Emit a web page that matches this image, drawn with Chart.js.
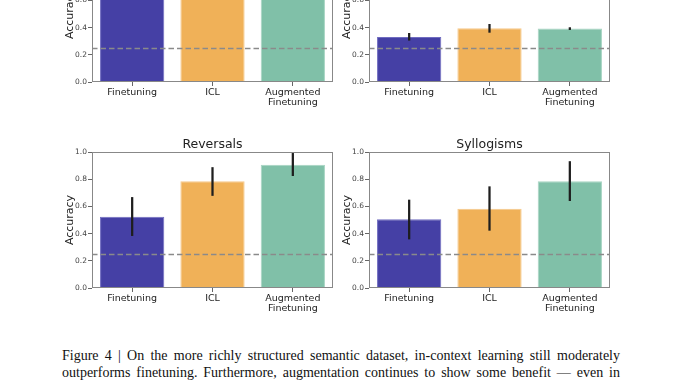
<!DOCTYPE html>
<html><head><meta charset="utf-8">
<script src="https://cdn.jsdelivr.net/npm/chart.js@4/dist/chart.umd.min.js"></script>
<style>
html,body{margin:0;padding:0;background:#fff;width:678px;height:381px;overflow:hidden;position:relative}
canvas{position:absolute}
#caption{position:absolute;left:62px;top:347px;width:558px;font-family:"Liberation Serif",serif;font-size:14px;line-height:17px;color:#111;text-align:justify;text-align-last:justify}
</style></head><body>
<canvas id="c0" width="300" height="200" style="left:40px;top:-86px"></canvas>
<canvas id="c1" width="300" height="200" style="left:317px;top:-86px"></canvas>
<canvas id="c2" width="300" height="200" style="left:40px;top:120px"></canvas>
<canvas id="c3" width="300" height="200" style="left:317px;top:120px"></canvas>
<div id="caption">Figure 4 | On the more richly structured semantic dataset, in-context learning still moderately outperforms finetuning. Furthermore, augmentation continues to show some benefit — even in</div>
<script>
// ---- data ----
const categories = ['Finetuning', 'ICL', ['Augmented', 'Finetuning']];
const yTickValues = [0.0, 0.2, 0.4, 0.6, 0.8, 1.0];
const chanceLevel = 0.25;
const panelTitles = [' ', ' ', 'Reversals', 'Syllogisms'];

// top-left panel (upper part cut off in the reference)
const meanTopLeft = [0.90, 0.95, 0.95];
const lowTopLeft  = [0.86, 0.92, 0.93];
const highTopLeft = [0.94, 0.98, 0.97];
// top-right panel
const meanTopRight = [0.33, 0.395, 0.393];
const lowTopRight  = [0.307, 0.365, 0.385];
const highTopRight = [0.358, 0.424, 0.400];
// Reversals
const meanReversals = [0.524, 0.785, 0.907];
const lowReversals  = [0.385, 0.680, 0.826];
const highReversals = [0.666, 0.886, 0.990];
// Syllogisms
const meanSyllogisms = [0.505, 0.583, 0.785];
const lowSyllogisms  = [0.360, 0.424, 0.642];
const highSyllogisms = [0.647, 0.745, 0.930];

const barColors = ['#4540a5', '#f0b158', '#80c0a8'];
const barEdgeColors = ['#706cc0', '#f6c98a', '#a6d4c2'];

const panels = [
  [meanTopLeft, lowTopLeft, highTopLeft],
  [meanTopRight, lowTopRight, highTopRight],
  [meanReversals, lowReversals, highReversals],
  [meanSyllogisms, lowSyllogisms, highSyllogisms]
];

const overlay = {
  id: 'overlay',
  afterDatasetsDraw(chart) {
    const {ctx, chartArea: a, scales: {y}} = chart;
    const yy = Math.round(y.getPixelForValue(chanceLevel)) + 0.5;
    ctx.save();
    ctx.strokeStyle = '#8a8a8a';
    ctx.lineWidth = 1.5;
    ctx.setLineDash([5.5, 3]);
    ctx.beginPath();
    ctx.moveTo(a.left, yy);
    ctx.lineTo(a.right, yy);
    ctx.stroke();
    ctx.restore();
  },
  afterDraw(chart) {
    const {ctx, chartArea: a} = chart;
    ctx.save();
    ctx.strokeStyle = '#888';
    ctx.lineWidth = 1;
    ctx.strokeRect(Math.round(a.left) + 0.5, Math.round(a.top) + 0.5, Math.round(a.width) - 1, Math.round(a.height) - 1);
    ctx.restore();
  }
};

Chart.defaults.font.family = '"DejaVu Sans", sans-serif';

panels.forEach((p, i) => {
  const [mean, low, high] = p;
  new Chart(document.getElementById('c' + i), {
    type: 'bar',
    data: {
      labels: categories,
      datasets: [
        {
          data: low.map((l, k) => [l, high[k]]),
          backgroundColor: '#1e1e1e',
          barThickness: 1.6,
          grouped: false,
          order: 0
        },
        {
          data: mean,
          backgroundColor: barColors,
          borderColor: barEdgeColors,
          borderWidth: 1,
          categoryPercentage: 0.8,
          barPercentage: 1.0,
          grouped: false,
          order: 1
        }
      ]
    },
    options: {
      responsive: false,
      animation: false,
      events: [],
      layout: {padding: {left: 0, right: 7, top: 0, bottom: 0}},
      plugins: {
        legend: {display: false},
        tooltip: {enabled: false},
        title: {
          display: true,
          text: panelTitles[i],
          fullSize: false,
          color: '#222',
          font: {size: 12.5, weight: 'normal'},
          padding: {top: 17, bottom: 0}
        }
      },
      scales: {
        x: {
          border: {display: false},
          grid: {display: true, drawOnChartArea: false, offset: false, tickLength: 4, color: '#666'},
          ticks: {color: '#222', font: {size: 9.5, lineHeight: 1.1}, padding: 1, maxRotation: 0, autoSkip: false},
          afterFit(s) { s.height = 32; }
        },
        y: {
          min: 0, max: 1,
          afterBuildTicks(s) { s.ticks = yTickValues.map(v => ({value: v})); },
          border: {display: false},
          grid: {display: true, drawOnChartArea: false, tickLength: 4, color: '#666'},
          ticks: {color: '#444', font: {size: 7.5}, padding: 1, callback: v => Number(v).toFixed(1)},
          title: {display: true, text: 'Accuracy', color: '#222', font: {size: 11}, padding: {top: 24, bottom: 0}},
          afterFit(s) { s.width = 52; }
        }
      }
    },
    plugins: [overlay]
  });
});
</script>
</body></html>
